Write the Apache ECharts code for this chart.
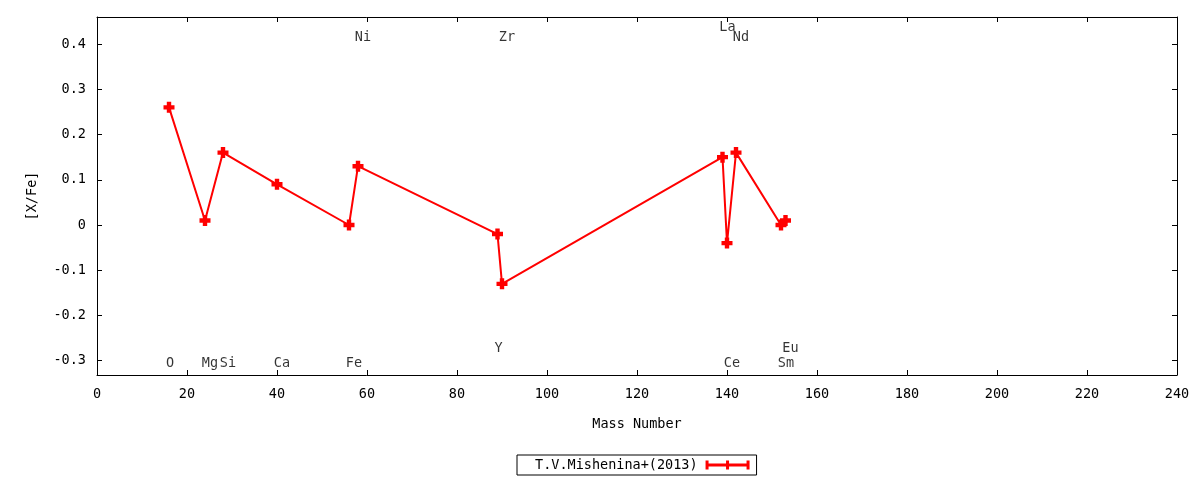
<!DOCTYPE html>
<html>
<head>
<meta charset="utf-8">
<script src="https://cdn.jsdelivr.net/npm/echarts@6/dist/echarts.min.js"></script>
<style>
html,body{margin:0;padding:0;background:#fff;}
#chart{width:1200px;height:480px;}
</style>
</head>
<body>
<div id="chart"></div>
<script>
// ---- data ----
const elements = ['O','Mg','Si','Ca','Fe','Ni','Y','Zr','La','Ce','Nd','Sm','Eu'];
const massNumbers = [16,24,28,40,56,58,89,90,139,140,142,152,153];
const xFeValues = [0.26,0.01,0.16,0.09,0.00,0.13,-0.02,-0.13,0.15,-0.04,0.16,0.00,0.01];
const labelLevels = [-0.306,-0.306,-0.306,-0.306,-0.306,0.414,-0.274,0.414,0.436,-0.306,0.414,-0.306,-0.274];
const yTicks = [-0.3,-0.2,-0.1,0,0.1,0.2,0.3,0.4];
const seriesName = 'T.V.Mishenina+(2013)';

const FONT = 'DejaVu Sans Mono';
const FS = 13.5;
const plusPath = 'path://M3,0H7V3H10V7H7V10H3V7H0V3H3Z';
const legendPath = 'path://M0,0H3V3H20.5V0H23.5V3H41V0H44V9H41V6H23.5V9H20.5V6H3V9H0Z';

const lineData = massNumbers.map((m, i) => [m, xFeValues[i]]);
const labelData = elements.map((el, i) => ({
  name: el,
  value: [massNumbers[i], labelLevels[i]],
  label: { offset: [el.length === 1 ? 1 : 5, 0] }
}));

const chart = echarts.init(document.getElementById('chart'));
const tickCommon = { inside: true, length: 5, lineStyle: { color: '#000', width: 1 } };
chart.setOption({
  animation: false,
  backgroundColor: '#fff',
  textStyle: { fontFamily: FONT, color: '#000' },
  grid: { left: 97, right: 23, top: 17, bottom: 105, containLabel: false },
  legend: {
    data: [seriesName],
    left: 517, top: 455,
    orient: 'horizontal',
    align: 'right',
    borderColor: '#000', borderWidth: 1, borderRadius: 0,
    padding: [3, 7, 3, 18],
    icon: legendPath,
    symbolKeepAspect: false,
    itemWidth: 44, itemHeight: 9,
    itemStyle: { borderWidth: 0 },
    textStyle: { fontFamily: FONT, fontSize: FS, color: '#000', lineHeight: 14, padding: [0, 3, 0, 0] },
    selectedMode: false
  },
  xAxis: [{
    type: 'value', position: 'bottom', min: 0, max: 240, interval: 20,
    name: 'Mass Number', nameLocation: 'middle', nameGap: 42,
    nameTextStyle: { fontFamily: FONT, fontSize: FS, color: '#000' },
    axisLine: { show: true, onZero: false, lineStyle: { color: '#000', width: 1 } },
    axisTick: tickCommon,
    axisLabel: { fontFamily: FONT, fontSize: FS, color: '#000', margin: 12 },
    splitLine: { show: false }
  }, {
    type: 'value', position: 'top', min: 0, max: 240, interval: 20,
    axisLine: { show: true, onZero: false, lineStyle: { color: '#000', width: 1 } },
    axisTick: tickCommon,
    axisLabel: { show: false },
    splitLine: { show: false }
  }],
  yAxis: [{
    type: 'value', position: 'left', min: -0.3315, max: 0.4597,
    name: '[X/Fe]', nameLocation: 'middle', nameGap: 58, nameRotate: 90,
    nameTextStyle: { fontFamily: FONT, fontSize: FS, color: '#000' },
    axisLine: { show: true, onZero: false, lineStyle: { color: '#000', width: 1 } },
    axisTick: Object.assign({ customValues: yTicks }, tickCommon),
    axisLabel: { fontFamily: FONT, fontSize: FS, color: '#000', margin: 11, customValues: yTicks },
    splitLine: { show: false }
  }, {
    type: 'value', position: 'right', min: -0.3315, max: 0.4597,
    axisLine: { show: true, onZero: false, lineStyle: { color: '#000', width: 1 } },
    axisTick: Object.assign({ customValues: yTicks }, tickCommon),
    axisLabel: { show: false },
    splitLine: { show: false }
  }],
  series: [{
    name: seriesName,
    type: 'line',
    xAxisIndex: 0, yAxisIndex: 0,
    data: lineData,
    symbol: plusPath,
    symbolSize: 11,
    showAllSymbol: true,
    color: '#ff0000',
    itemStyle: { color: '#ff0000', borderWidth: 0 },
    lineStyle: { color: '#ff0000', width: 2 },
    emphasis: { disabled: true },
    z: 3
  }, {
    name: 'labels',
    type: 'scatter',
    xAxisIndex: 0, yAxisIndex: 0,
    data: labelData,
    symbol: 'circle',
    symbolSize: 1,
    itemStyle: { color: 'rgba(0,0,0,0)' },
    silent: true,
    label: {
      show: true, position: 'inside', formatter: '{b}',
      fontFamily: FONT, fontSize: FS, color: '#000'
    },
    z: 2
  }]
});
</script>
</body>
</html>
